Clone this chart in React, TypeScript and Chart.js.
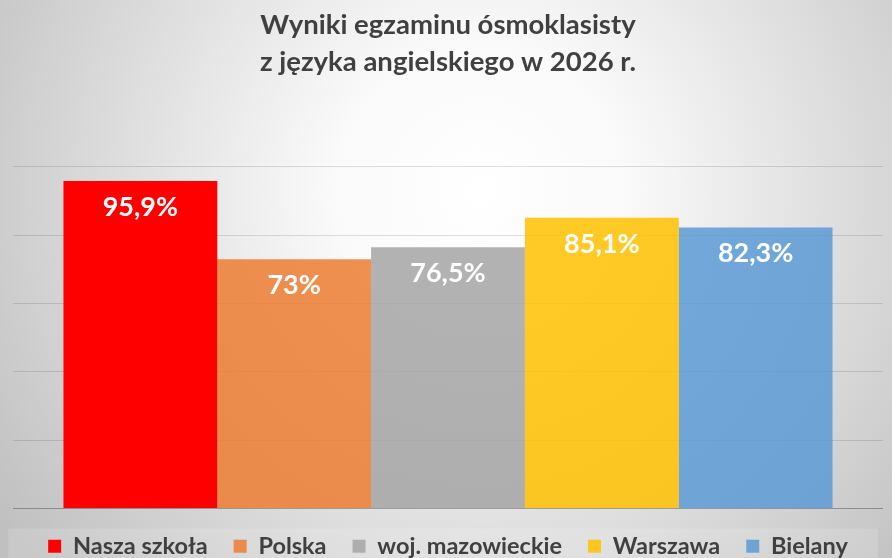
import { useEffect, useRef } from "react";
import Chart from "chart.js/auto";
import type { Plugin } from "chart.js";

const titleLines = ["Wyniki egzaminu ósmoklasisty", "z języka angielskiego w 2026 r."];
const categories = ["Wynik"];
const seriesNames = ["Nasza szkoła", "Polska", "woj. mazowieckie", "Warszawa", "Bielany"];
const seriesValues = [95.9, 73, 76.5, 85.1, 82.3];
const seriesColors = [
  "rgba(255, 0, 0, 1)",
  "rgba(237, 125, 49, 0.85)",
  "rgba(165, 165, 165, 0.85)",
  "rgba(255, 192, 0, 0.85)",
  "rgba(91, 155, 213, 0.85)",
];

const FONT = "Lato, 'DejaVu Sans', sans-serif";

const backgroundPlugin: Plugin<"bar"> = {
  id: "slideBackground",
  beforeDraw(chart) {
    const { ctx, width, height } = chart;
    ctx.save();
    const g = ctx.createRadialGradient(480, 190, 0, 480, 190, 580);
    g.addColorStop(0, "#ffffff");
    g.addColorStop(0.25, "#fafafa");
    g.addColorStop(1, "#c0c0c0");
    ctx.fillStyle = g;
    ctx.fillRect(0, 0, width, height);

    // faint lighter band behind the legend
    const boxes = chart.legend?.legendHitBoxes ?? [];
    if (boxes.length) {
      const left = Math.min(...boxes.map((b) => b.left)) - 40;
      const right = Math.max(...boxes.map((b) => b.left + b.width)) + 30;
      const top = boxes[0].top - 6;
      ctx.fillStyle = "rgba(255,255,255,0.14)";
      ctx.fillRect(Math.max(left, 3), top, right - Math.max(left, 3), height - top);
    }
    ctx.restore();
  },
};

const valueLabels: Plugin<"bar"> = {
  id: "valueLabels",
  afterDatasetsDraw(chart) {
    const { ctx } = chart;
    ctx.save();
    ctx.fillStyle = "#ffffff";
    ctx.font = `bold 27px ${FONT}`;
    ctx.textAlign = "center";
    ctx.textBaseline = "middle";
    chart.data.datasets.forEach((ds, i) => {
      const meta = chart.getDatasetMeta(i);
      meta.data.forEach((bar, j) => {
        const v = ds.data[j] as number;
        const text = String(v).replace(".", ",") + "%";
        ctx.fillText(text, bar.x, bar.y + 26);
      });
    });
    ctx.restore();
  },
};

export default function App() {
  const canvasRef = useRef<HTMLCanvasElement | null>(null);
  const chartRef = useRef<Chart | null>(null);

  useEffect(() => {
    if (!canvasRef.current) return;
    const ctx = canvasRef.current.getContext("2d");
    if (!ctx) return;
    if (chartRef.current) chartRef.current.destroy();

    chartRef.current = new Chart(ctx, {
      type: "bar",
      data: {
        labels: categories,
        datasets: seriesNames.map((name, i) => ({
          label: name,
          data: [seriesValues[i]],
          backgroundColor: seriesColors[i],
          borderWidth: 0,
          barPercentage: 1,
          categoryPercentage: 0.884,
        })),
      },
      options: {
        responsive: true,
        maintainAspectRatio: false,
        animation: false,
        layout: { padding: { left: 13, right: 9, top: 0, bottom: -10 } },
        plugins: {
          title: {
            display: true,
            text: titleLines,
            color: "#404040",
            font: { family: FONT, size: 27.5, weight: "bold", lineHeight: 1.345 },
            padding: { top: 6.5, bottom: 86.5 },
          },
          legend: {
            position: "bottom",
            labels: {
              color: "#404040",
              font: { family: FONT, size: 23.5, weight: "bold" },
              boxWidth: 13,
              boxHeight: 13,
              padding: 26,
            },
          },
          tooltip: { enabled: false },
        },
        scales: {
          x: { display: false },
          y: {
            min: 0,
            max: 100,
            ticks: { display: false, stepSize: 20 },
            border: { display: false },
            grid: {
              drawTicks: false,
              color: (c) => (c.tick && c.tick.value === 0 ? "rgba(0,0,0,0.3)" : "rgba(0,0,0,0.12)"),
            },
          },
        },
      },
      plugins: [backgroundPlugin, valueLabels],
    });

    return () => chartRef.current?.destroy();
  }, []);

  return (
    <div style={{ position: "fixed", left: 0, top: 0, width: 892, height: 558 }}>
      <canvas ref={canvasRef} />
    </div>
  );
}
